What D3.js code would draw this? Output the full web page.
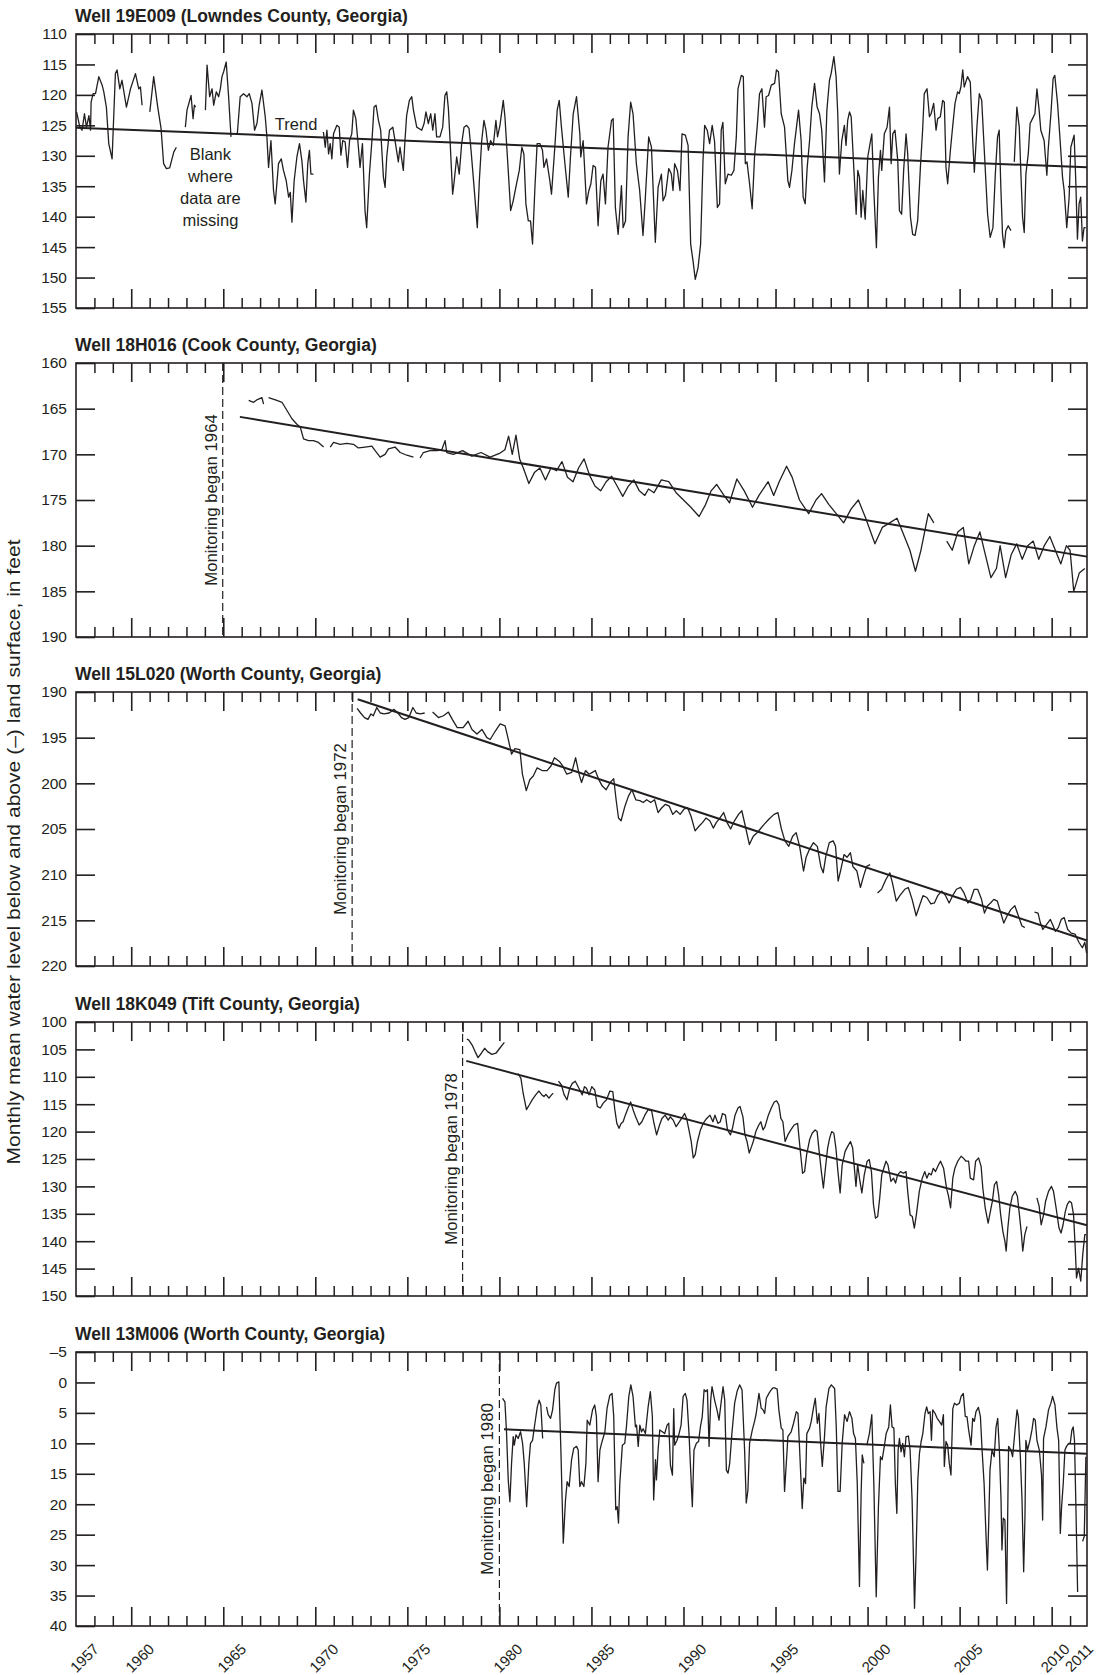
<!DOCTYPE html>
<html>
<head>
<meta charset="utf-8">
<script src="https://cdn.jsdelivr.net/npm/d3@7"></script>
<style>
  body { margin: 0; background: #fff; }
  svg { display: block; }
  text { fill: #231f20; font-family: "Liberation Sans", Arial, sans-serif; }
</style>
</head>
<body>
<script>
// Panel titles and axis ranges
const wellTitles = [
    'Well 19E009 (Lowndes County, Georgia)',
    'Well 18H016 (Cook County, Georgia)',
    'Well 15L020 (Worth County, Georgia)',
    'Well 18K049 (Tift County, Georgia)',
    'Well 13M006 (Worth County, Georgia)'
];
const yDomains = [[110, 155], [160, 190], [190, 220], [100, 150], [-5, 40]];
const xLabelYears = [1957, 1960, 1965, 1970, 1975, 1980, 1985, 1990, 1995, 2000, 2005, 2010, 2011];

// Monitoring start (panels 2-5)
const monitorYears = [null, 1964.97, 1972.0, 1978.0, 1980.0];
const monitorLabels = [null, 'Monitoring began 1964', 'Monitoring began 1972', 'Monitoring began 1978', 'Monitoring began 1980'];

// Trend lines [year, level]
const trend19E009 = [[1957, 125.4], [2011.92, 131.9]];
const trend18H016 = [[1965.9, 165.9], [2011.92, 181.2]];
const trend15L020 = [[1972.3, 190.8], [2011.92, 217.2]];
const trend18K049 = [[1978.2, 107.1], [2011.92, 137.1]];
const trend13M006 = [[1980.25, 7.7], [2011.92, 11.7]];

// Monthly mean water levels [year, feet below land surface]; null = missing data
const well19E009 = [
    [1957.03,122.8],[1957.21,125.3],[1957.33,125.8],[1957.46,123.1],[1957.57,125.3],[1957.70,123.4],[1957.79,125.8],[1957.82,121.2],[1957.93,119.8],[1958.06,119.8],[1958.24,117.0],[1958.42,118.4],[1958.51,119.5],[1958.65,122.0],[1958.78,128.0],[1958.96,130.5],[1959.14,116.5],[1959.23,115.9],[1959.38,119.0],[1959.50,117.6],[1959.74,122.0],[1959.96,119.0],[1960.23,116.5],[1960.41,119.0],[1960.50,118.7],[1960.59,121.7],null,
    [1961.01,122.8],[1961.22,117.0],[1961.44,122.0],[1961.62,125.5],[1961.76,131.3],[1961.91,132.1],[1962.09,132.0],[1962.31,129.4],[1962.45,128.6],null,
    [1962.94,125.3],[1963.03,122.5],[1963.25,120.1],[1963.36,123.9],[1963.43,121.7],[1963.50,122.0],null,
    [1964.03,122.5],[1964.12,115.1],[1964.26,120.3],[1964.39,119.0],[1964.48,121.7],[1964.62,119.5],[1964.75,120.3],[1964.84,119.0],[1964.93,117.0],[1965.02,116.2],[1965.16,114.6],[1965.29,120.3],[1965.42,126.9],null,
    [1965.76,126.5],[1965.92,120.3],[1966.10,119.8],[1966.29,120.3],[1966.41,119.8],[1966.56,121.4],[1966.70,125.8],[1966.83,124.7],[1966.95,121.7],[1967.10,119.2],[1967.28,123.6],[1967.37,126.9],[1967.46,131.9],[1967.59,127.5],[1967.73,135.7],[1967.82,137.9],[1968.00,131.3],[1968.15,130.5],[1968.27,132.4],[1968.42,134.1],[1968.55,136.8],[1968.64,136.0],[1968.73,140.9],[1968.85,134.1],[1969.00,130.2],[1969.14,128.0],[1969.27,130.8],[1969.36,134.1],[1969.49,137.6],[1969.59,131.3],[1969.68,129.1],[1969.76,133.0],[1969.90,133.0],null,
    [1970.44,126.1],[1970.54,128.6],[1970.63,125.8],[1970.72,129.7],[1970.81,128.0],[1970.90,130.5],[1970.99,126.4],[1971.17,125.0],[1971.30,125.3],[1971.39,129.9],[1971.49,127.5],[1971.62,127.7],[1971.75,131.9],[1971.86,127.5],[1971.98,126.4],[1972.07,122.5],[1972.20,123.9],[1972.31,127.5],[1972.43,131.9],[1972.56,128.0],[1972.70,139.0],[1972.79,141.8],[1972.94,133.0],[1973.09,126.9],[1973.19,122.0],[1973.30,121.7],[1973.43,124.2],[1973.55,125.8],[1973.70,133.5],[1973.79,135.2],[1973.88,130.2],[1974.03,125.8],[1974.21,125.3],[1974.33,127.5],[1974.51,131.0],[1974.60,128.6],[1974.78,132.4],[1974.87,127.5],[1974.96,123.4],[1975.11,120.9],[1975.24,120.3],[1975.33,122.5],[1975.51,125.3],[1975.78,125.8],[1975.91,124.7],[1976.01,122.8],[1976.14,124.7],[1976.27,123.1],[1976.38,125.8],[1976.50,123.1],[1976.59,126.9],[1976.77,126.9],[1976.92,125.3],[1977.04,120.1],[1977.14,119.5],[1977.23,122.3],[1977.32,127.5],[1977.46,136.3],[1977.53,134.6],[1977.68,130.2],[1977.82,133.0],[1977.95,128.0],[1978.08,125.3],[1978.22,125.0],[1978.35,125.5],[1978.46,129.1],[1978.58,133.5],[1978.80,141.8],[1978.91,134.1],[1979.04,127.5],[1979.16,124.2],[1979.27,125.8],[1979.40,129.1],[1979.52,127.5],[1979.67,128.3],[1979.81,124.2],[1979.90,126.9],[1980.03,125.0],[1980.21,120.9],[1980.30,123.6],[1980.48,132.4],[1980.61,139.0],[1980.75,137.4],[1980.93,134.6],[1981.08,132.4],[1981.22,128.6],[1981.33,129.7],[1981.44,137.9],[1981.57,140.7],[1981.69,140.7],[1981.80,144.5],[1981.93,135.2],[1982.05,128.0],[1982.20,128.0],[1982.34,129.1],[1982.42,131.9],[1982.56,130.5],[1982.74,134.1],[1982.83,136.3],[1983.01,128.6],[1983.14,122.5],[1983.25,120.9],[1983.37,125.3],[1983.56,131.3],[1983.74,136.8],[1983.86,130.2],[1984.01,123.1],[1984.19,120.3],
    [1984.37,126.4],[1984.42,130.2],[1984.55,127.5],[1984.73,137.9],[1984.86,135.7],[1984.97,134.6],[1985.09,131.6],[1985.22,131.9],[1985.36,141.5],[1985.51,134.1],[1985.63,133.0],[1985.76,137.9],[1985.90,128.6],[1986.09,124.2],[1986.18,123.9],[1986.30,138.5],[1986.45,142.9],[1986.54,139.0],[1986.63,134.9],[1986.72,141.8],[1986.85,140.7],[1986.99,126.9],[1987.13,121.2],[1987.26,123.1],[1987.44,131.3],[1987.62,135.7],[1987.80,143.1],[1987.93,136.8],[1988.11,126.9],[1988.26,128.6],[1988.47,144.2],[1988.62,135.2],[1988.80,133.0],[1988.89,137.4],[1989.02,136.5],[1989.20,132.1],[1989.34,133.0],[1989.43,135.7],[1989.52,131.3],[1989.67,132.4],[1989.81,135.7],[1989.92,126.4],[1990.10,126.6],[1990.25,128.3],[1990.39,144.5],[1990.52,147.3],[1990.64,150.3],[1990.79,148.4],[1990.93,144.5],[1991.06,130.8],[1991.15,125.0],[1991.29,125.8],[1991.42,128.0],[1991.56,125.0],[1991.69,127.7],[1991.84,138.5],[1991.96,137.9],[1992.05,125.8],[1992.14,124.5],[1992.27,134.6],[1992.42,133.0],[1992.60,133.2],[1992.74,132.4],[1992.87,126.9],[1992.96,119.0],[1993.14,116.8],[1993.25,117.0],[1993.36,131.3],[1993.45,131.0],[1993.59,134.6],[1993.73,138.7],[1993.86,130.2],[1994.01,125.0],[1994.13,119.8],[1994.26,119.0],[1994.40,125.3],[1994.49,120.3],[1994.62,120.1],[1994.77,118.4],[1994.95,118.1],[1995.05,115.9],[1995.16,116.2],[1995.31,123.1],[1995.49,125.3],[1995.67,134.1],[1995.76,135.2],[1995.89,132.4],[1996.03,128.0],[1996.25,122.5],[1996.39,127.5],[1996.50,136.8],[1996.61,137.9],[1996.72,131.9],[1996.85,127.5],[1996.97,122.0],[1997.12,118.1],[1997.26,122.0],[1997.39,123.1],[1997.51,125.8],[1997.66,134.3],[1997.79,122.5],[1997.93,117.6],[1998.02,116.5],[1998.17,113.7],[1998.29,117.0],[1998.38,123.1],[1998.47,133.0],[1998.60,127.5],[1998.74,125.0],[1998.83,128.3],[1998.92,124.2],[1999.02,122.8],[1999.11,123.6],[1999.25,131.9],[1999.38,139.6],[1999.47,132.4],[1999.56,133.5],[1999.65,140.1],[1999.74,135.7],[1999.87,140.4],[2000.01,130.2],[2000.10,128.6],[2000.23,126.4],[2000.34,135.7],[2000.48,145.1],[2000.59,133.5],[2000.70,129.1],[2000.77,132.4],[2000.91,126.4],[2001.06,125.3],[2001.19,122.0],[2001.28,131.3],[2001.37,126.4],[2001.49,125.8],[2001.64,130.8],[2001.73,139.0],[2001.85,139.6],[2001.96,132.4],[2002.09,126.4],[2002.18,129.7],[2002.33,140.1],[2002.45,142.9],[2002.58,143.1],[2002.72,140.7],[2002.87,131.9],[2002.99,125.8],[2003.08,119.8],[2003.23,119.0],[2003.36,123.6],[2003.45,123.1],[2003.59,121.4],[2003.72,125.8],[2003.81,123.9],[2003.95,123.6],[2004.08,120.9],[2004.17,121.2],[2004.26,131.9],[2004.35,134.6],[2004.50,129.1],[2004.62,125.3],[2004.75,121.4],[2004.89,119.5],[2004.98,119.8],[2005.07,118.7],[2005.17,115.9],[2005.25,118.7],[2005.43,117.0],[2005.58,117.9],[2005.71,127.5],[2005.80,132.7],[2005.94,125.3],[2006.07,119.8],[2006.20,120.9],[2006.34,129.1],[2006.52,139.6],[2006.66,143.4],[2006.81,141.8],[2006.94,133.0],[2007.06,126.9],[2007.15,125.8],[2007.24,135.2],[2007.33,142.9],[2007.42,145.1],[2007.51,142.3],[2007.64,141.5],[2007.79,142.3],null,
    [2007.97,131.0],[2008.11,122.0],[2008.24,125.3],[2008.33,133.0],[2008.42,140.1],[2008.51,142.6],[2008.60,133.0],[2008.73,129.7],[2008.83,124.7],[2008.96,123.9],[2009.09,123.1],[2009.20,119.0],[2009.32,122.5],[2009.41,125.8],[2009.59,127.5],[2009.74,133.2],[2009.81,129.1],[2009.96,123.1],[2010.08,117.3],[2010.17,116.8],[2010.32,121.4],[2010.46,127.5],[2010.59,133.5],[2010.68,135.7],[2010.82,141.8],[2010.95,136.8],[2011.04,128.6],[2011.22,126.6],[2011.31,134.1],[2011.40,143.7],[2011.49,137.9],[2011.58,136.8],[2011.67,144.0],[2011.76,141.8],[2011.85,141.8]
];

const well18H016 = [
    [1965.92,164.9],null,
    [1966.38,164.1],[1966.65,164.3],[1966.85,164.0],[1967.10,163.8],[1967.19,164.5],null,
    [1967.46,163.8],[1967.91,164.1],[1968.19,164.3],[1968.46,165.2],[1968.73,166.1],[1969.00,166.7],[1969.18,167.0],[1969.36,168.3],[1969.63,168.5],[1969.90,168.5],[1970.17,168.7],[1970.45,169.2],null,
    [1970.81,169.2],[1970.99,168.7],[1971.35,168.9],[1971.71,168.8],[1972.07,168.9],[1972.34,169.3],[1972.71,169.2],[1973.07,169.1],[1973.25,169.6],[1973.52,170.3],[1973.79,170.0],[1973.97,169.4],[1974.33,169.2],[1974.61,169.8],[1974.97,170.1],[1975.33,170.3],null,
    [1975.69,170.4],[1975.87,169.8],[1976.23,169.6],[1976.60,169.6],[1976.87,169.5],[1977.05,168.5],[1977.14,169.8],[1977.50,170.0],[1978.00,169.6],[1978.50,170.2],[1979.00,169.8],[1979.50,170.3],[1980.00,169.9],[1980.30,169.5],[1980.50,168.0],[1980.70,170.0],[1980.90,167.9],[1981.10,170.5],[1981.30,171.5],[1981.60,173.2],[1981.90,172.0],[1982.20,171.5],[1982.50,172.8],[1982.80,171.5],[1983.10,171.8],[1983.40,170.8],[1983.70,172.5],[1984.00,173.0],[1984.30,171.5],[1984.60,170.5],[1984.90,172.3],[1985.20,173.5],[1985.50,174.0],[1985.80,173.0],[1986.10,172.4],[1986.40,173.5],[1986.70,174.6],[1987.00,173.5],[1987.30,172.8],[1987.60,174.0],[1987.90,174.5],[1988.10,173.8],[1988.40,174.2],[1988.80,172.8],[1989.20,173.0],[1989.60,174.2],[1990.00,175.0],[1990.40,175.8],[1990.85,176.8],[1991.20,175.5],[1991.50,174.0],[1991.80,173.3],[1992.20,174.5],[1992.50,175.3],[1992.90,172.7],[1993.30,174.0],[1993.75,175.8],[1994.10,174.5],[1994.60,173.0],[1994.90,174.5],[1995.20,173.0],[1995.60,171.3],[1995.90,172.5],[1996.30,175.0],[1996.80,176.5],[1997.20,175.0],[1997.50,174.3],[1997.90,175.5],[1998.30,176.5],[1998.70,177.5],[1999.10,176.0],[1999.50,175.0],[1999.90,177.0],[2000.40,179.8],[2000.80,178.0],[2001.20,177.5],[2001.60,177.0],[2002.00,179.0],[2002.30,180.5],[2002.60,182.8],[2002.90,180.5],[2003.30,176.5],[2003.60,177.5],null,
    [2004.30,179.5],[2004.60,180.5],[2004.90,178.5],[2005.20,178.0],[2005.50,182.0],[2005.80,180.0],[2006.10,178.5],[2006.40,181.0],[2006.70,183.5],[2007.00,182.5],[2007.20,180.0],[2007.50,183.5],[2007.80,181.0],[2008.10,179.8],[2008.40,181.5],[2008.70,180.0],[2009.00,179.5],[2009.30,181.5],[2009.60,180.0],[2009.90,179.0],[2010.20,180.5],[2010.50,182.0],[2010.80,180.0],[2011.00,180.5],[2011.20,185.0],[2011.50,183.0],[2011.80,182.5]
];

const well15L020 = [
    [1972.27,191.8],[1972.46,192.3],[1972.67,192.8],[1972.86,193.0],[1973.02,192.4],[1973.15,192.6],[1973.34,191.7],[1973.53,192.3],[1973.74,192.4],[1974.01,192.3],[1974.28,191.9],[1974.49,192.3],[1974.68,192.8],[1974.87,193.0],[1975.08,192.8],[1975.30,191.7],[1975.48,192.3],[1975.70,192.4],[1975.94,192.3],null,
    [1976.37,192.2],[1976.69,192.8],[1976.96,192.6],[1977.23,192.2],[1977.44,193.0],[1977.71,193.9],[1978.03,193.9],[1978.30,193.2],[1978.51,194.1],[1978.78,194.6],[1979.05,194.1],[1979.32,195.0],[1979.50,195.2],[1979.77,194.3],[1980.04,193.5],[1980.31,193.7],[1980.44,194.8],[1980.66,196.8],[1980.84,196.2],[1981.11,196.3],[1981.25,199.0],[1981.46,200.8],[1981.65,199.6],[1981.84,199.2],[1982.05,198.3],[1982.32,198.6],[1982.59,198.6],[1982.80,198.1],[1982.99,197.2],[1983.26,197.6],[1983.44,198.1],[1983.66,199.0],[1983.93,198.8],[1984.14,197.2],[1984.33,199.0],[1984.46,199.9],[1984.68,198.6],[1984.87,199.0],[1985.05,198.8],[1985.21,198.6],[1985.40,199.6],[1985.59,200.3],[1985.80,200.7],[1986.02,199.9],[1986.21,199.5],[1986.34,201.8],[1986.47,203.8],[1986.61,204.1],[1986.82,202.5],[1987.01,201.4],[1987.20,200.7],[1987.41,201.8],[1987.63,201.9],[1987.81,202.1],[1988.00,201.8],[1988.22,202.1],[1988.43,201.8],[1988.62,203.2],[1988.81,202.7],[1989.02,202.3],[1989.23,202.5],[1989.42,203.4],[1989.61,203.0],[1989.82,203.4],[1990.04,202.8],[1990.23,202.7],[1990.41,203.6],[1990.63,205.2],[1990.84,204.7],[1991.03,204.3],[1991.22,203.8],[1991.43,204.1],[1991.62,204.9],[1991.78,204.3],[1991.97,203.8],[1992.18,203.2],[1992.37,204.3],[1992.56,205.0],[1992.77,204.1],[1992.99,203.4],[1993.17,203.0],[1993.36,204.7],[1993.58,206.7],[1993.79,205.8],[1994.00,205.4],[1994.17,205.0],[1994.38,204.5],[1994.65,203.9],[1994.92,203.4],[1995.13,203.2],[1995.32,205.0],[1995.51,206.3],[1995.72,206.9],[1995.93,205.8],[1996.12,205.4],[1996.31,206.9],[1996.52,209.6],[1996.66,208.1],[1996.85,207.2],[1997.06,206.5],[1997.27,206.9],[1997.46,209.1],[1997.59,209.8],[1997.73,208.0],[1997.92,206.5],[1998.13,206.3],[1998.26,206.9],[1998.40,210.7],[1998.53,209.6],[1998.72,207.8],[1998.88,208.1],[1999.07,207.6],[1999.20,209.1],[1999.42,209.6],[1999.61,211.4],[1999.79,210.1],[1999.95,209.1],[2000.14,208.9],null,
    [2000.54,212.0],[2000.76,211.6],[2001.00,210.5],[2001.21,209.8],[2001.35,210.9],[2001.56,212.9],[2001.75,212.3],[2002.02,211.6],[2002.21,211.4],[2002.42,212.7],[2002.64,214.5],[2002.82,213.4],[2003.01,212.3],[2003.22,212.5],[2003.44,213.2],[2003.63,213.1],[2003.81,212.3],[2004.03,211.8],[2004.24,212.3],[2004.43,213.1],[2004.62,212.3],[2004.83,211.6],[2005.05,211.4],[2005.24,212.0],[2005.45,213.1],[2005.61,212.7],[2005.79,211.6],[2005.98,211.6],[2006.19,212.7],[2006.35,214.2],[2006.52,213.4],[2006.68,213.1],[2006.86,212.7],[2007.05,212.9],[2007.21,214.0],[2007.40,215.3],[2007.58,214.5],[2007.79,213.8],[2008.00,213.4],[2008.19,214.5],[2008.38,215.6],[2008.54,215.8],null,
    [2009.07,214.1],[2009.26,214.2],[2009.39,215.3],[2009.52,216.0],[2009.71,215.5],[2009.93,214.9],[2010.06,215.5],[2010.20,216.2],[2010.36,215.8],[2010.52,214.9],[2010.68,214.7],[2010.87,216.0],[2011.06,216.4],[2011.27,216.5],[2011.48,217.4],[2011.67,218.0],[2011.80,217.4],[2011.90,218.6]
];

const well18K049 = [
    [1978.23,103.1],[1978.34,103.3],[1978.52,104.2],[1978.68,105.4],[1978.84,106.5],[1979.02,105.7],[1979.20,104.8],[1979.36,105.4],[1979.59,105.9],[1979.81,105.7],[1980.04,104.7],[1980.27,103.7],null,
    [1981.01,109.4],[1981.17,110.3],[1981.29,113.0],[1981.47,116.0],[1981.63,115.1],[1981.78,114.2],[1981.97,113.3],[1982.15,112.6],[1982.31,113.3],[1982.42,113.6],[1982.53,113.2],[1982.69,113.9],[1982.83,113.3],[1982.92,113.0],null,
    [1983.21,110.8],[1983.37,111.5],[1983.51,113.2],[1983.67,114.2],[1983.82,112.1],[1983.96,111.2],[1984.12,110.8],[1984.23,111.5],[1984.37,112.4],[1984.50,113.3],[1984.62,111.8],[1984.73,112.1],[1984.87,113.3],[1985.02,111.8],[1985.18,112.4],[1985.32,115.4],[1985.48,115.7],[1985.64,114.8],[1985.82,114.2],[1986.00,112.6],[1986.16,112.7],[1986.27,116.0],[1986.38,118.5],[1986.50,119.4],[1986.61,118.5],[1986.72,118.2],[1986.84,117.0],[1986.99,115.7],[1987.13,114.6],[1987.29,116.3],[1987.40,117.3],[1987.59,118.8],[1987.74,118.2],[1987.90,117.0],[1988.08,116.0],[1988.27,116.2],[1988.38,118.2],[1988.54,120.6],[1988.70,118.8],[1988.83,117.6],[1989.00,117.0],[1989.17,117.9],[1989.28,117.3],[1989.44,117.9],[1989.60,119.1],[1989.72,118.5],[1989.90,117.6],[1990.06,116.7],[1990.17,117.6],[1990.28,119.4],[1990.42,121.8],[1990.53,124.8],[1990.64,124.2],[1990.76,121.8],[1990.92,119.7],[1991.07,118.5],[1991.26,117.6],[1991.44,117.0],[1991.60,118.2],[1991.71,117.0],[1991.87,118.5],[1992.00,118.2],[1992.12,116.7],[1992.28,117.0],[1992.39,119.7],[1992.55,120.6],[1992.66,119.4],[1992.80,117.0],[1992.96,115.7],[1993.07,115.4],[1993.23,117.3],[1993.34,120.6],[1993.45,121.8],[1993.57,123.9],[1993.70,122.7],[1993.79,121.8],[1993.93,120.0],[1994.09,118.8],[1994.20,118.2],[1994.32,119.7],[1994.43,119.1],[1994.61,117.0],[1994.77,115.7],[1994.93,114.6],[1995.06,114.4],[1995.18,115.1],[1995.29,117.6],[1995.40,118.2],[1995.52,121.8],[1995.67,120.6],[1995.83,119.7],[1996.01,118.8],[1996.20,118.5],[1996.33,123.0],[1996.47,127.6],[1996.58,127.3],[1996.69,124.2],[1996.85,121.5],[1996.99,120.3],[1997.15,119.7],[1997.26,120.0],[1997.37,123.6],[1997.49,127.3],[1997.60,130.3],[1997.71,126.7],[1997.83,123.0],[1997.94,121.2],[1998.05,120.0],[1998.17,120.3],[1998.28,123.0],[1998.39,127.3],[1998.51,131.2],[1998.62,126.1],[1998.78,123.6],[1998.92,122.7],[1999.07,121.8],[1999.19,123.0],[1999.30,127.3],[1999.37,130.0],[1999.46,126.0],[1999.57,128.7],[1999.69,131.2],[1999.82,127.9],[1999.98,125.4],[2000.09,125.1],[2000.21,127.3],[2000.32,133.3],[2000.43,135.8],[2000.55,135.5],[2000.66,132.1],[2000.77,127.9],[2000.88,126.7],[2001.00,125.4],[2001.11,126.1],[2001.27,129.1],[2001.41,128.5],[2001.52,129.4],[2001.63,127.9],[2001.79,127.3],[2001.95,127.6],[2002.09,127.3],[2002.18,130.9],[2002.31,135.2],[2002.43,135.5],[2002.54,137.6],[2002.65,135.2],[2002.81,130.9],[2002.97,128.5],[2003.11,127.3],[2003.22,128.5],[2003.33,127.6],[2003.46,127.9],[2003.57,126.7],[2003.69,127.3],[2003.85,126.1],[2003.96,125.4],[2004.13,126.7],[2004.29,130.3],[2004.40,131.8],[2004.51,133.9],[2004.63,128.5],[2004.74,126.7],[2004.90,125.4],[2005.08,124.5],[2005.19,124.8],[2005.35,125.4],[2005.49,125.4],[2005.58,128.5],[2005.76,128.8],[2005.87,125.4],[2006.03,124.8],[2006.17,126.4],[2006.26,130.3],[2006.39,133.9],[2006.55,136.7],[2006.67,134.6],[2006.78,132.7],[2006.89,129.7],[2007.01,129.1],[2007.12,131.5],[2007.23,135.2],[2007.35,138.2],[2007.46,140.0],[2007.53,141.8],[2007.62,137.6],[2007.73,133.9],[2007.86,131.8],[2008.02,130.9],[2008.14,131.8],[2008.25,135.2],[2008.36,138.8],[2008.43,141.8],[2008.54,138.8],[2008.66,137.3],null,
    [2009.20,132.1],[2009.32,133.6],[2009.43,137.0],[2009.56,135.2],[2009.67,132.7],[2009.83,130.9],[2009.99,130.0],[2010.10,130.9],[2010.24,133.9],[2010.40,137.6],[2010.51,138.5],[2010.62,137.0],[2010.74,134.6],[2010.85,133.3],[2010.97,132.7],[2011.08,133.0],[2011.19,135.2],[2011.28,141.2],[2011.35,146.7],[2011.46,144.9],[2011.58,147.3],[2011.69,142.4],[2011.80,138.8],[2011.87,138.8]
];

const well13M006 = [
    [1980.17,2.6],[1980.30,3.2],[1980.39,8.4],[1980.48,16.0],[1980.57,19.6],[1980.66,13.3],[1980.75,8.9],[1980.81,10.3],[1980.90,8.6],[1981.02,9.2],[1981.15,8.1],[1981.26,10.0],[1981.35,13.3],[1981.48,20.4],[1981.60,13.3],[1981.69,10.0],[1981.80,9.5],[1981.93,6.7],[1982.06,4.0],[1982.16,2.9],[1982.25,3.7],[1982.35,9.2],null,
    [1982.56,4.0],[1982.65,5.3],[1982.78,5.9],[1982.89,4.5],[1983.01,1.2],[1983.10,0.1],[1983.23,-0.1],[1983.34,11.1],[1983.47,26.4],[1983.59,19.3],[1983.68,16.3],[1983.79,17.1],[1983.92,12.7],[1984.04,10.8],[1984.19,10.5],[1984.28,11.1],[1984.37,17.1],[1984.46,16.3],[1984.59,17.1],[1984.70,13.3],[1984.77,6.2],[1984.91,7.0],[1985.06,4.5],[1985.18,3.7],[1985.27,5.6],[1985.36,16.3],[1985.46,11.1],[1985.55,10.0],[1985.73,8.1],[1985.85,4.2],[1986.00,2.1],[1986.12,1.8],[1986.21,5.6],[1986.32,20.9],[1986.40,20.4],[1986.47,23.1],[1986.54,16.6],[1986.68,10.3],[1986.81,10.0],[1986.90,7.3],[1987.03,2.3],[1987.14,0.4],[1987.26,2.3],[1987.39,7.3],[1987.45,7.0],[1987.54,10.5],[1987.63,7.0],[1987.72,8.1],[1987.81,7.6],[1987.93,8.4],[1988.08,4.0],[1988.20,1.5],[1988.31,5.6],[1988.38,19.3],[1988.48,12.7],[1988.53,16.0],[1988.62,11.1],[1988.71,7.8],[1988.85,8.1],[1988.98,8.4],[1989.11,7.0],[1989.20,6.7],[1989.29,13.6],[1989.40,15.2],[1989.47,4.3],[1989.52,10.3],[1989.65,9.5],[1989.76,8.4],[1989.87,7.0],[1989.98,2.3],[1990.10,1.8],[1990.19,2.9],[1990.30,8.4],[1990.39,14.4],[1990.48,20.4],[1990.57,11.1],[1990.70,10.0],[1990.82,9.7],[1990.92,7.3],[1991.02,5.6],[1991.12,1.2],[1991.21,1.5],[1991.30,1.2],[1991.39,10.5],[1991.48,2.9],[1991.55,0.7],[1991.69,2.9],[1991.82,4.5],[1991.93,6.2],[1992.06,2.9],[1992.15,0.7],[1992.24,2.9],[1992.33,14.4],[1992.42,14.9],[1992.51,13.3],[1992.63,8.4],[1992.78,3.4],[1992.91,1.5],[1993.05,0.4],[1993.18,1.2],[1993.32,11.1],[1993.41,19.8],[1993.50,17.7],[1993.59,10.0],[1993.74,7.8],[1993.86,6.4],[1993.95,5.1],[1994.10,1.8],[1994.22,4.2],[1994.32,4.5],[1994.41,5.1],[1994.50,2.6],[1994.64,1.8],[1994.77,1.2],[1994.86,0.9],[1994.95,0.9],[1995.09,1.1],[1995.18,4.5],[1995.31,7.5],[1995.40,7.8],[1995.49,17.9],[1995.62,11.6],[1995.67,8.9],[1995.85,8.1],[1995.98,6.7],[1996.13,4.8],[1996.22,5.1],[1996.31,11.1],[1996.45,20.7],[1996.54,15.7],[1996.63,16.6],[1996.70,8.4],[1996.85,7.5],[1996.94,6.4],[1997.07,4.0],[1997.16,2.6],[1997.27,6.7],[1997.36,5.1],[1997.45,10.0],[1997.54,13.8],[1997.66,8.9],[1997.75,4.0],[1997.90,1.0],[1998.03,0.4],[1998.21,1.0],[1998.30,7.3],[1998.39,17.9],[1998.51,17.9],[1998.62,10.0],[1998.75,5.3],[1998.89,6.4],[1999.02,4.8],[1999.15,5.9],[1999.24,8.4],[1999.34,9.2],[1999.44,16.6],[1999.56,33.5],[1999.65,18.2],[1999.71,11.9],[1999.80,13.3],null,
    [1999.96,10.3],[2000.10,8.4],[2000.23,5.3],[2000.34,16.6],[2000.47,35.2],[2000.59,20.4],[2000.70,12.2],[2000.79,12.7],[2000.92,10.3],[2001.01,8.4],[2001.15,7.3],[2001.24,3.7],[2001.33,7.3],[2001.43,7.5],[2001.51,16.6],[2001.59,21.5],[2001.66,11.1],[2001.73,9.2],[2001.82,11.4],[2001.91,10.0],[2002.00,12.2],[2002.09,8.9],[2002.22,8.8],[2002.31,11.1],[2002.42,19.3],[2002.55,37.1],[2002.64,27.5],[2002.73,16.0],[2002.82,11.6],[2002.91,9.7],[2003.00,8.4],[2003.12,5.1],[2003.21,4.0],[2003.30,5.1],[2003.40,4.8],[2003.47,9.5],[2003.54,4.5],[2003.67,5.1],[2003.78,5.9],[2003.90,6.4],[2004.03,7.0],[2004.12,5.3],[2004.17,13.8],[2004.26,9.7],[2004.35,10.3],[2004.44,13.3],[2004.53,15.2],[2004.63,4.3],[2004.72,3.4],[2004.84,3.7],[2004.99,3.4],[2005.08,2.3],[2005.20,1.8],[2005.31,5.6],[2005.40,5.6],[2005.49,7.8],[2005.62,10.3],[2005.71,5.9],[2005.80,6.4],[2005.89,4.8],[2006.02,4.1],[2006.13,5.6],[2006.22,11.1],[2006.33,16.6],[2006.43,24.8],[2006.51,30.8],[2006.58,23.1],[2006.65,14.4],[2006.76,11.1],[2006.88,12.2],[2006.98,7.3],[2007.07,5.9],[2007.16,11.1],[2007.25,19.3],[2007.30,27.5],[2007.37,22.3],[2007.46,22.6],[2007.55,36.3],[2007.66,10.5],[2007.79,11.1],[2007.88,12.2],[2008.01,7.8],[2008.12,4.5],[2008.19,5.6],[2008.30,12.2],[2008.39,19.3],[2008.48,31.1],[2008.55,22.0],[2008.60,9.5],[2008.69,11.1],[2008.82,9.5],[2008.93,7.8],[2009.02,5.9],[2009.11,6.2],[2009.20,9.5],[2009.33,11.1],[2009.45,15.2],[2009.51,22.6],[2009.56,9.2],[2009.69,7.3],[2009.83,4.5],[2009.96,3.4],[2010.05,2.3],[2010.18,3.7],[2010.29,7.5],[2010.38,9.5],[2010.47,24.8],[2010.54,20.4],[2010.63,16.6],[2010.72,11.1],[2010.81,10.5],[2010.92,10.0],[2011.01,10.0],[2011.10,7.8],[2011.17,7.3],[2011.24,9.5],[2011.31,19.3],[2011.41,34.4],null,
    [2011.68,26.1],[2011.77,25.3],[2011.86,12.2]
];

const wellSeries = [well19E009, well18H016, well15L020, well18K049, well13M006];
const trendSeries = [trend19E009, trend18H016, trend15L020, trend18K049, trend13M006];

const width = 1099, height = 1675;
const panelTops = [34, 363, 692, 1022, 1352];
const panelHeight = 274;
const ink = '#231f20';

const svg = d3.select('body')
    .append('svg')
    .attr('width', width)
    .attr('height', height);

const x = d3.scaleLinear().domain([1957, 2011.92]).range([76, 1087]);
const plotLeft = x.range()[0], plotRight = x.range()[1];

const yearsMinor = d3.range(1958, 2012);
const yearsMajor = d3.range(1960, 2011, 5);

const fmtLevel = d => (d < 0 ? '\u2013' + Math.abs(d) : d);

wellTitles.forEach((title, i) => {
    const g = svg.append('g').attr('transform', `translate(0, ${panelTops[i]})`);
    const y = d3.scaleLinear().domain(yDomains[i]).range([0, panelHeight]);
    const yTicks = d3.range(yDomains[i][0], yDomains[i][1] + 1, 5);

    // Title
    g.append('text')
        .attr('x', plotLeft - 1)
        .attr('y', -12)
        .attr('font-size', 17.5)
        .attr('font-weight', 'bold')
        .text(title);

    // Left axis with labels, ticks pointing inward
    g.append('g')
        .attr('transform', `translate(${plotLeft}, 0)`)
        .call(d3.axisLeft(y).tickValues(yTicks).tickSize(-19).tickPadding(9).tickFormat(fmtLevel))
        .call(a => a.select('.domain').remove())
        .call(a => a.selectAll('line').attr('stroke', ink).attr('stroke-width', 1.6))
        .call(a => a.selectAll('text').attr('font-size', 15.5).attr('fill', ink).attr('font-family', null));

    // Right axis ticks
    g.append('g')
        .attr('transform', `translate(${plotRight}, 0)`)
        .call(d3.axisRight(y).tickValues(yTicks.slice(1, -1)).tickSize(-19).tickFormat(''))
        .call(a => a.select('.domain').remove())
        .call(a => a.selectAll('line').attr('stroke', ink).attr('stroke-width', 1.6));

    // Top and bottom year ticks: minor every year, major every 5 years
    [[d3.axisTop, 0], [d3.axisBottom, panelHeight]].forEach(([axisFn, ty]) => {
        g.append('g')
            .attr('transform', `translate(0, ${ty})`)
            .call(axisFn(x).tickValues(yearsMinor.filter(v => v % 5 !== 0)).tickSize(-10).tickFormat(''))
            .call(a => a.select('.domain').remove())
            .call(a => a.selectAll('line').attr('stroke', ink).attr('stroke-width', 1.5));
        g.append('g')
            .attr('transform', `translate(0, ${ty})`)
            .call(axisFn(x).tickValues(yearsMajor).tickSize(-19).tickFormat(''))
            .call(a => a.select('.domain').remove())
            .call(a => a.selectAll('line').attr('stroke', ink).attr('stroke-width', 1.6));
    });

    // Frame
    g.append('rect')
        .attr('x', plotLeft)
        .attr('y', 0)
        .attr('width', plotRight - plotLeft)
        .attr('height', panelHeight)
        .attr('fill', 'none')
        .attr('stroke', ink)
        .attr('stroke-width', 1.6);

    // Monitoring start
    if (monitorYears[i] !== null) {
        const mx = x(monitorYears[i]);
        g.append('line')
            .attr('x1', mx).attr('x2', mx)
            .attr('y1', 0).attr('y2', panelHeight)
            .attr('stroke', ink)
            .attr('stroke-width', 1.2)
            .attr('stroke-dasharray', '8,4');
        g.append('text')
            .attr('transform', `translate(${mx - 6}, ${panelHeight / 2}) rotate(-90)`)
            .attr('text-anchor', 'middle')
            .attr('font-size', 16.8)
            .text(monitorLabels[i]);
    }

    // Water level
    const line = d3.line()
        .defined(d => d !== null)
        .x(d => x(d[0]))
        .y(d => y(d[1]));

    g.append('path')
        .datum(wellSeries[i])
        .attr('fill', 'none')
        .attr('stroke', ink)
        .attr('stroke-width', 1.3)
        .attr('stroke-linejoin', 'round')
        .attr('d', line);

    // Trend
    g.append('path')
        .datum(trendSeries[i])
        .attr('fill', 'none')
        .attr('stroke', ink)
        .attr('stroke-width', 2)
        .attr('d', d3.line().x(d => x(d[0])).y(d => y(d[1])));

    // Annotations on first panel
    if (i === 0) {
        g.append('text')
            .attr('x', x(1967.8))
            .attr('y', y(125.7))
            .attr('font-size', 16.5)
            .text('Trend');
        const blank = g.append('text')
            .attr('text-anchor', 'middle')
            .attr('font-size', 16.5);
        ['Blank', 'where', 'data are', 'missing'].forEach((s, k) => {
            blank.append('tspan')
                .attr('x', x(1964.3))
                .attr('y', y(130.7) + k * 22)
                .text(s);
        });
    }

    // Year labels below the last panel
    if (i === wellTitles.length - 1) {
        g.selectAll('.yearlabel')
            .data(xLabelYears)
            .enter()
            .append('text')
            .attr('class', 'yearlabel')
            .attr('text-anchor', 'end')
            .attr('font-size', 15)
            .attr('transform', d => `translate(${x(d) + (d === 2010 ? 19 : 24)}, ${panelHeight + 24}) rotate(-45)`)
            .text(d => d);
    }
});

// Shared y-axis title
svg.append('text')
    .attr('transform', `translate(20, 852) rotate(-90)`)
    .attr('text-anchor', 'middle')
    .attr('font-size', 19)
    .attr('textLength', 625)
    .attr('lengthAdjust', 'spacingAndGlyphs')
    .text('Monthly mean water level below and above (\u2013) land surface, in feet');
</script>
</body>
</html>
